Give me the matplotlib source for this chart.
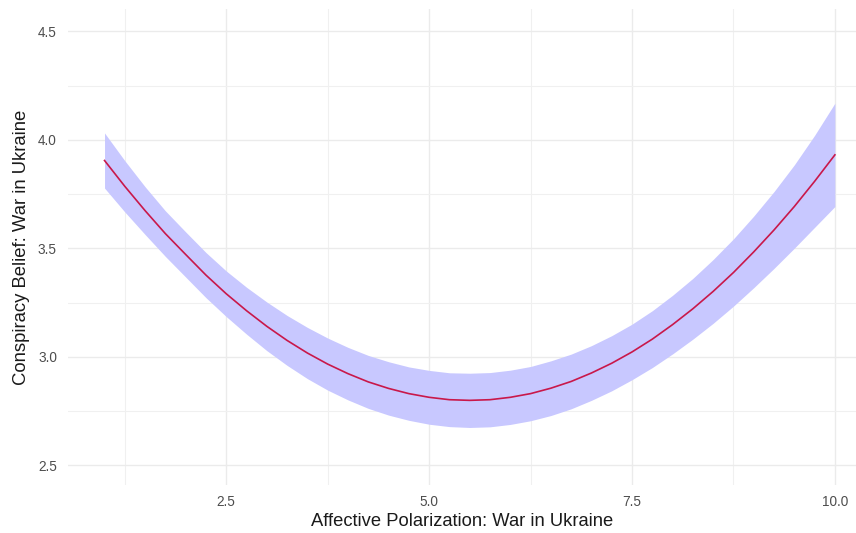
import matplotlib
matplotlib.use("Agg")
import matplotlib.pyplot as plt
from matplotlib.ticker import FixedLocator

# Predicted conspiracy belief across affective polarization, with confidence band
polarization = [1.00, 1.25, 1.50, 1.75, 2.00, 2.25, 2.50, 2.75, 3.00, 3.25,
                3.50, 3.75, 4.00, 4.25, 4.50, 4.75, 5.00, 5.25, 5.50, 5.75,
                6.00, 6.25, 6.50, 6.75, 7.00, 7.25, 7.50, 7.75, 8.00, 8.25,
                8.50, 8.75, 9.00, 9.25, 9.50, 9.75, 10.00]
predicted = [3.905, 3.786, 3.674, 3.568, 3.472, 3.377, 3.291, 3.213, 3.141, 3.076,
             3.018, 2.967, 2.923, 2.885, 2.855, 2.831, 2.814, 2.803, 2.800, 2.803,
             2.814, 2.831, 2.856, 2.887, 2.926, 2.971, 3.023, 3.082, 3.149, 3.222,
             3.302, 3.389, 3.484, 3.585, 3.693, 3.809, 3.931]
ci_lower = [3.778, 3.668, 3.564, 3.463, 3.368, 3.273, 3.186, 3.105, 3.029, 2.961,
            2.900, 2.847, 2.802, 2.763, 2.732, 2.708, 2.690, 2.679, 2.675, 2.678,
            2.689, 2.706, 2.730, 2.761, 2.800, 2.844, 2.895, 2.951, 3.014, 3.082,
            3.155, 3.234, 3.319, 3.408, 3.501, 3.597, 3.693]
ci_upper = [4.032, 3.904, 3.784, 3.673, 3.576, 3.481, 3.396, 3.321, 3.253, 3.191,
            3.136, 3.087, 3.044, 3.007, 2.978, 2.954, 2.938, 2.927, 2.925, 2.928,
            2.939, 2.956, 2.982, 3.013, 3.052, 3.098, 3.151, 3.213, 3.284, 3.362,
            3.449, 3.544, 3.649, 3.762, 3.885, 4.021, 4.169]

x_ticks = [2.5, 5.0, 7.5, 10.0]
x_tick_labels = ["2.5", "5.0", "7.5", "10.0"]
y_ticks = [2.5, 3.0, 3.5, 4.0, 4.5]
y_tick_labels = ["2.5", "3.0", "3.5", "4.0", "4.5"]

plt.rcParams["font.family"] = ["Liberation Sans", "DejaVu Sans"]

fig = plt.figure(figsize=(8.56, 5.33), dpi=100)
ax = fig.add_axes([68 / 856, 1 - 485 / 533, 1 - 68 / 856, (485 - 9) / 533])

ax.fill_between(polarization, ci_lower, ci_upper, color="#c8c8ff", linewidth=0, zorder=2)
ax.plot(polarization, predicted, color="#c9184a", linewidth=1.2, zorder=3)

ax.set_xlim(0.55, 10.26)
ax.set_ylim(2.41, 4.603)

ax.xaxis.set_major_locator(FixedLocator(x_ticks))
ax.set_xticklabels(x_tick_labels)
ax.yaxis.set_major_locator(FixedLocator(y_ticks))
ax.set_yticklabels(y_tick_labels)
ax.xaxis.set_minor_locator(FixedLocator([1.25, 3.75, 6.25, 8.75]))
ax.yaxis.set_minor_locator(FixedLocator([2.75, 3.25, 3.75, 4.25]))

ax.grid(which="major", color="#ebebeb", linewidth=1.0, zorder=0)
ax.grid(which="minor", color="#f0f0f0", linewidth=0.8, zorder=0)
ax.set_axisbelow(True)
for side in ax.spines.values():
    side.set_visible(False)
ax.tick_params(which="both", length=0)
ax.tick_params(axis="both", labelsize=9.8, labelcolor="#4d4d4d")
ax.tick_params(axis="x", pad=7)
ax.tick_params(axis="y", pad=8)

ax.set_xlabel("Affective Polarization: War in Ukraine", fontsize=13.2, color="#1a1a1a", labelpad=3)
ax.set_ylabel("Conspiracy Belief: War in Ukraine", fontsize=13.3, color="#1a1a1a", labelpad=6)

fig.savefig("out.png", dpi=100, facecolor="white")
